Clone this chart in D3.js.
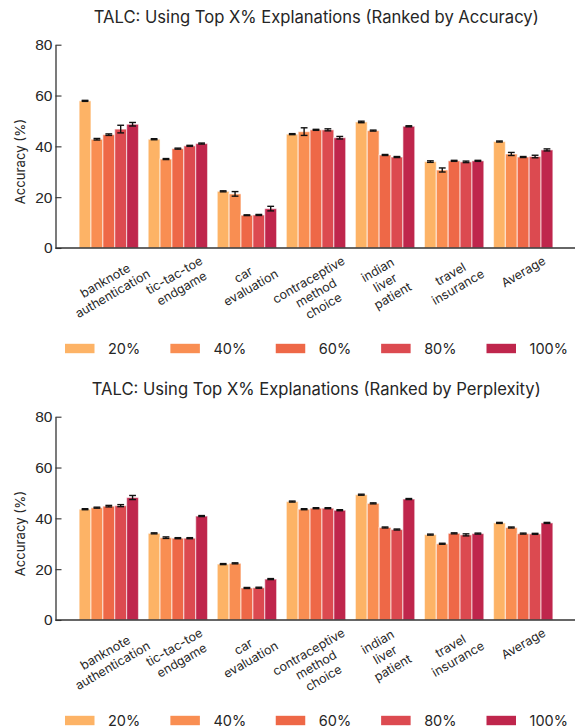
<!DOCTYPE html>
<html>
<head>
<meta charset="utf-8">
<script src="https://cdn.jsdelivr.net/npm/d3@7"></script>
<style>
  html, body { margin: 0; padding: 0; background: #fff; }
  svg { display: block; font-family: Inter, "DejaVu Sans", sans-serif; }
</style>
</head>
<body>
<svg id="chart" width="575" height="728"></svg>
<script>
// ---------------- data ----------------
const categories = [
  "banknote\nauthentication",
  "tic-tac-toe\nendgame",
  "car\nevaluation",
  "contraceptive\nmethod\nchoice",
  "indian\nliver\npatient",
  "travel\ninsurance",
  "Average"
];
const series = ["20%", "40%", "60%", "80%", "100%"];
const yTicks = [0, 20, 40, 60, 80];

// Panel 1: ranked by accuracy (mean accuracy %, per series across categories)
const accTop20  = [57.9, 42.8, 22.3, 44.8, 49.6, 34.0, 41.9];
const accTop40  = [42.8, 35.0, 21.3, 45.8, 46.2, 30.7, 37.0];
const accTop60  = [44.6, 39.1, 12.9, 46.5, 36.6, 34.3, 35.8];
const accTop80  = [46.8, 40.2, 13.0, 46.5, 35.8, 33.9, 36.0];
const accTop100 = [48.7, 41.1, 15.5, 43.4, 47.9, 34.3, 38.6];
// error bar half-widths
const accErr20  = [0.2, 0.2, 0.2, 0.2, 0.3, 0.3, 0.2];
const accErr40  = [0.3, 0.2, 0.9, 1.5, 0.2, 0.8, 0.6];
const accErr60  = [0.3, 0.2, 0.15, 0.2, 0.2, 0.2, 0.2];
const accErr80  = [1.5, 0.2, 0.2, 0.4, 0.2, 0.3, 0.5];
const accErr100 = [0.7, 0.2, 0.9, 0.5, 0.2, 0.2, 0.4];

// Panel 2: ranked by perplexity
const pplTop20  = [43.6, 34.1, 22.0, 46.6, 49.3, 33.6, 38.2];
const pplTop40  = [44.2, 32.4, 22.3, 43.6, 45.9, 30.0, 36.4];
const pplTop60  = [44.8, 32.2, 12.6, 44.0, 36.4, 34.1, 34.0];
const pplTop80  = [45.0, 32.2, 12.7, 44.0, 35.6, 33.5, 33.9];
const pplTop100 = [48.2, 40.9, 16.1, 43.2, 47.6, 34.0, 38.2];
const pplErr20  = [0.2, 0.2, 0.2, 0.2, 0.2, 0.2, 0.2];
const pplErr40  = [0.2, 0.3, 0.2, 0.2, 0.2, 0.2, 0.2];
const pplErr60  = [0.3, 0.2, 0.2, 0.2, 0.2, 0.2, 0.2];
const pplErr80  = [0.4, 0.2, 0.2, 0.2, 0.2, 0.4, 0.2];
const pplErr100 = [0.8, 0.2, 0.2, 0.2, 0.2, 0.2, 0.2];

const palette = ["#fdb366", "#f98e52", "#ee6847", "#dc4a50", "#bf264c"];

// ---------------- drawing ----------------
const svg = d3.select("#chart");
const textColor = "#262626";

function drawPanel(top, title, valueArrays, errArrays) {
  const axisY = top + 248;
  const axisTop = top + 44.7;
  const left = 55.5, right = 575;

  const g = svg.append("g");

  const x0 = d3.scaleBand().domain(categories).range([left + 1.5, right])
    .paddingInner(0.14).paddingOuter(0.32);
  const x1 = d3.scaleBand().domain(series).range([0, x0.bandwidth()]).padding(0);
  const y = d3.scaleLinear().domain([0, 80]).range([axisY, axisTop]);

  const rows = [];
  categories.forEach((c, ci) => {
    series.forEach((s, si) => {
      rows.push({ cat: c, ser: s, si, v: valueArrays[si][ci], e: errArrays[si][ci] });
    });
  });

  // bars
  g.selectAll("rect.bar").data(rows).join("rect")
    .attr("class", "bar")
    .attr("x", d => x0(d.cat) + x1(d.ser))
    .attr("width", x1.bandwidth())
    .attr("y", d => y(d.v))
    .attr("height", d => y(0) - y(d.v))
    .attr("fill", d => palette[d.si])
    .attr("stroke", "#ffffff")
    .attr("stroke-opacity", 0.55)
    .attr("stroke-width", 1.2);

  // error bars
  const capW = 3.4;
  const eb = g.selectAll("g.err").data(rows).join("g").attr("class", "err")
    .attr("stroke", "#111").attr("stroke-width", 1.4);
  eb.append("line")
    .attr("x1", d => x0(d.cat) + x1(d.ser) + x1.bandwidth() / 2)
    .attr("x2", d => x0(d.cat) + x1(d.ser) + x1.bandwidth() / 2)
    .attr("y1", d => y(d.v - d.e)).attr("y2", d => y(d.v + d.e));
  [-1, 1].forEach(sgn => {
    eb.append("line")
      .attr("x1", d => x0(d.cat) + x1(d.ser) + x1.bandwidth() / 2 - capW)
      .attr("x2", d => x0(d.cat) + x1(d.ser) + x1.bandwidth() / 2 + capW)
      .attr("y1", d => y(d.v + sgn * d.e)).attr("y2", d => y(d.v + sgn * d.e));
  });

  // y axis
  const yAxis = d3.axisLeft(y).tickValues(yTicks).tickSize(-6).tickPadding(3).tickSizeOuter(0);
  const ya = g.append("g").attr("transform", `translate(${left},0)`).call(yAxis);
  ya.select(".domain").attr("stroke", "#333").attr("stroke-width", 1.3);
  ya.selectAll(".tick line").attr("stroke", "#333").attr("stroke-width", 1.1);
  ya.selectAll(".tick text").attr("fill", textColor)
    .style("font-size", "15.5px").attr("x", -3);

  // x axis baseline
  const xAxis = d3.axisBottom(x0).tickSize(0).tickFormat("");
  const xa = g.append("g").attr("transform", `translate(0,${axisY})`).call(xAxis);
  xa.select(".domain").attr("stroke", "#333").attr("stroke-width", 1.3)
    .attr("d", `M${left},0H${right}`);

  // x tick labels (rotated 30°, multi-line, centered)
  categories.forEach(c => {
    const lg = g.append("g");
    const t = lg.append("text").attr("text-anchor", "middle")
      .attr("fill", textColor).style("font-size", "12.5px");
    c.split("\n").forEach((line, i) => {
      t.append("tspan").attr("x", 0).attr("dy", i === 0 ? 0 : 15).text(line);
    });
    const bb = t.node().getBBox();
    t.attr("transform", `translate(0,${-(bb.y + bb.height / 2)})`);
    const w = bb.width, h = bb.height;
    const cx = x0(c) + x0.bandwidth() / 2;
    const cy = axisY + 5 + (w / 2) * 0.5 + (h / 2) * 0.866;
    lg.attr("transform", `translate(${cx},${cy}) rotate(-30)`);
  });

  // y label
  g.append("text")
    .attr("transform", `translate(24.5,${top + 161.7}) rotate(-90)`)
    .attr("text-anchor", "middle")
    .attr("fill", textColor)
    .style("font-size", "13.2px")
    .text("Accuracy (%)");

  // title
  g.append("text")
    .attr("x", (left + right) / 2 + 1)
    .attr("y", top + 22.5)
    .attr("text-anchor", "middle")
    .attr("fill", textColor)
    .style("font-size", "16.6px")
    .text(title);

  // legend
  const legX = d3.scalePoint().domain(series).range([65, 486.5]);
  const lgY = top + 348.5;
  const leg = g.selectAll("g.leg").data(series).join("g").attr("class", "leg")
    .attr("transform", s => `translate(${legX(s)},${lgY})`);
  leg.append("rect").attr("x", 0).attr("y", -4.7).attr("width", 29.5).attr("height", 9.4)
    .attr("fill", (s, i) => palette[i]);
  leg.append("text").attr("x", 43).attr("y", 0).attr("dy", "0.35em")
    .attr("fill", textColor).style("font-size", "14.5px").text(s => s);
}

drawPanel(0, "TALC: Using Top X% Explanations (Ranked by Accuracy)",
  [accTop20, accTop40, accTop60, accTop80, accTop100],
  [accErr20, accErr40, accErr60, accErr80, accErr100]);
drawPanel(372, "TALC: Using Top X% Explanations (Ranked by Perplexity)",
  [pplTop20, pplTop40, pplTop60, pplTop80, pplTop100],
  [pplErr20, pplErr40, pplErr60, pplErr80, pplErr100]);
</script>
</body>
</html>
